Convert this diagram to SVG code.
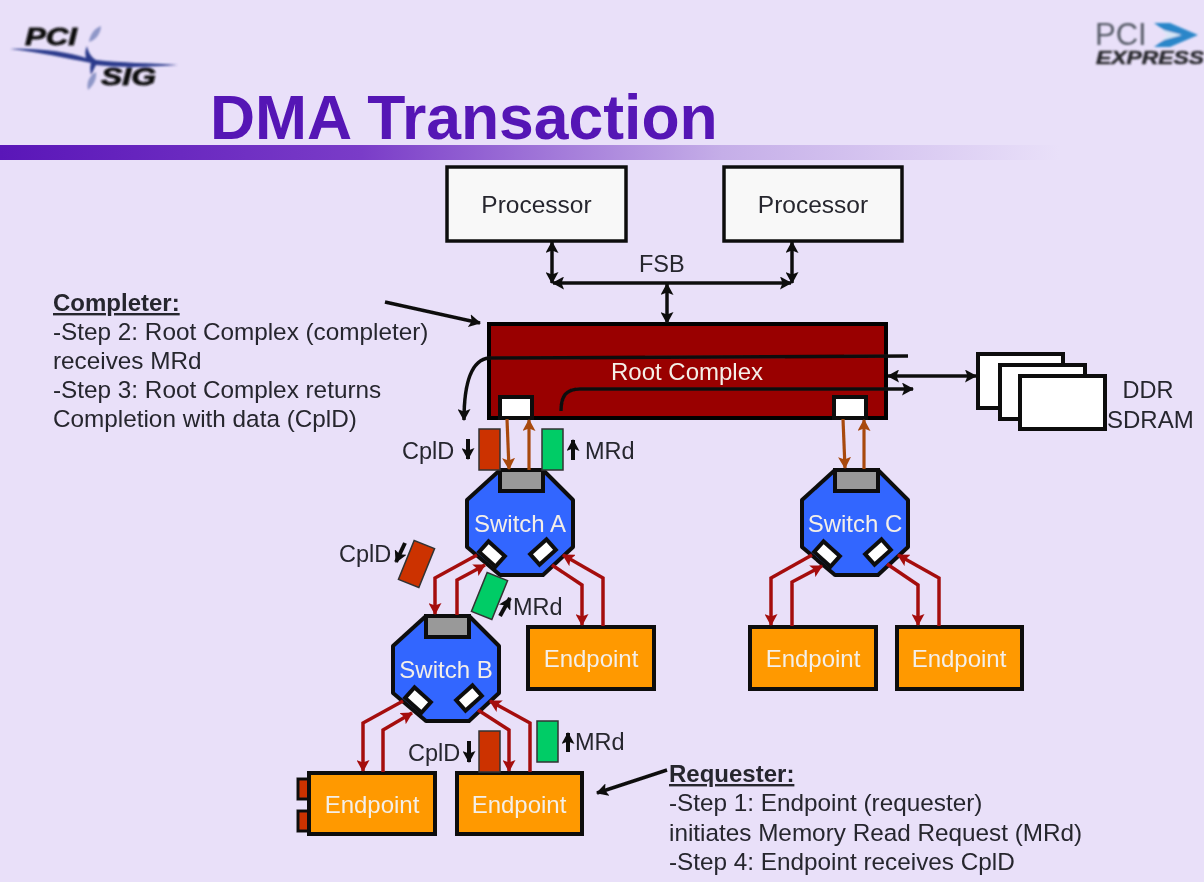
<svg xmlns="http://www.w3.org/2000/svg" width="1204" height="882" viewBox="0 0 1204 882" font-family="'Liberation Sans', Arial, sans-serif">
<style>
.box{stroke:#000;stroke-width:4}
.proc{fill:#f8f8f8;stroke:#111;stroke-width:3.5}
.mem{fill:#fff;stroke:#111;stroke-width:4}
.ep{fill:#ff9900;stroke:#111;stroke-width:4}
.wt{fill:#f4efe8;font-size:24px;text-anchor:middle}
.lb{fill:#26262e;font-size:23.5px}
.nt{fill:#26262e;font-size:24.3px}
.hd{fill:#26262e;font-size:24px;font-weight:700;text-decoration:underline}
.sw{fill:#3366ff;stroke:#111;stroke-width:4;stroke-linejoin:round}
.gray{fill:#999;stroke:#111;stroke-width:4}
.port{fill:#fff;stroke:#111;stroke-width:4}
.blk{fill:none;stroke:#111;stroke-width:3.5}
.red{fill:none;stroke:#a50f0f;stroke-width:3.5;marker-end:url(#mr)}
.org{fill:none;stroke:#a8490f;stroke-width:3.2;marker-end:url(#mo)}
.cpl{fill:#cc3300;stroke:#333;stroke-width:1.5}
.mrd{fill:#00cc66;stroke:#333;stroke-width:1.5}
.tiny{fill:none;stroke:#111;stroke-width:4;marker-end:url(#mk)}
</style>
<defs>
<marker id="mk" markerUnits="userSpaceOnUse" markerWidth="13" markerHeight="13" refX="11" refY="6.500" orient="auto"><path d="M0 0L12 6.500L0 13L2.500 6.500Z" fill="#111"/></marker>
<marker id="mks" markerUnits="userSpaceOnUse" markerWidth="13" markerHeight="13" refX="1" refY="6.500" orient="auto"><path d="M12 0L0 6.500L12 13L9.500 6.500Z" fill="#111"/></marker>
<marker id="mr" markerUnits="userSpaceOnUse" markerWidth="13" markerHeight="13" refX="11" refY="6.500" orient="auto"><path d="M0 0L12 6.500L0 13L2.500 6.500Z" fill="#a50f0f"/></marker>
<marker id="mo" markerUnits="userSpaceOnUse" markerWidth="13" markerHeight="13" refX="11" refY="6.500" orient="auto"><path d="M0 0L12 6.500L0 13L2.500 6.500Z" fill="#a8490f"/></marker>
<linearGradient id="bar" x1="0" x2="1" y1="0" y2="0"><stop offset="0" stop-color="#5a16b8"/><stop offset=".3" stop-color="#7a3cc8"/><stop offset=".6" stop-color="#c5aee8"/><stop offset=".88" stop-color="#e9e0f9"/></linearGradient>
<filter id="soft" x="-5%" y="-5%" width="110%" height="110%"><feGaussianBlur stdDeviation="0.9"/></filter>
<filter id="page" x="0" y="0" width="100%" height="100%"><feGaussianBlur stdDeviation="0.45"/></filter>
<g id="sw-body">
<path class="sw" d="M33 0H76L106 30V77L76 105H33L0 77V30Z"/>
<rect class="gray" x="33" y="0" width="43" height="21"/>
<rect class="port" x="-11" y="-7" width="22" height="14" transform="translate(25 84) rotate(42)"/>
<rect class="port" x="-11" y="-7" width="22" height="14" transform="translate(76 82) rotate(-42)"/>
</g>
</defs>
<rect width="1204" height="882" fill="#e9e0f9"/>
<rect id="title-bar" x="0" y="145" width="1204" height="15" fill="url(#bar)"/>
<g id="logo-sig" filter="url(#soft)">
<path d="M10 49C40 48 68 52 86 58C85 54 85 50 87 46C88 52 91 57 96 60C120 63 150 63 178 65C150 67 120 68 96 65C94 68 93 72 91 75C90 70 90 66 91 63C66 58 38 52 10 49Z" fill="#2a3a8c"/>
<path d="M89 42C90 34 95 28 101 26C101 33 96 40 89 42ZM88 90C86 82 90 75 96 72C97 78 94 85 88 90Z" fill="#8f97c8"/>
<text x="25" y="45" font-size="24" font-weight="700" font-style="italic" fill="#111" stroke="#111" stroke-width=".8" textLength="52" lengthAdjust="spacingAndGlyphs">PCI</text>
<text x="101" y="85" font-size="24" font-weight="700" font-style="italic" fill="#111" stroke="#111" stroke-width=".8" textLength="55" lengthAdjust="spacingAndGlyphs">SIG</text>
</g>
<g id="logo-express" filter="url(#soft)">
<text x="1095" y="45" font-size="31" fill="#555a66">PCI</text>
<path d="M1154 23H1170L1198 35L1170 47H1154L1171 35Z" fill="#2b86c9"/>
<path d="M1160 29L1182 35L1160 41L1168 35Z" fill="#d7e6f6"/>
<text x="1096" y="64" font-size="17.500" font-weight="700" font-style="italic" fill="#2c2c30" stroke="#2c2c30" stroke-width=".5" textLength="108" lengthAdjust="spacingAndGlyphs">EXPRESS</text>
</g>
<g filter="url(#page)">
<text id="title" x="210" y="139" font-size="62.450" font-weight="700" fill="#5512b5">DMA Transaction</text>
<g id="processor-1"><rect class="proc" x="447" y="167" width="179" height="74"/><text class="lb" x="536.500" y="213" style="font-size:24.500px" text-anchor="middle">Processor</text></g>
<g id="processor-2"><rect class="proc" x="724" y="167" width="178" height="74"/><text class="lb" x="813" y="213" style="font-size:24.500px" text-anchor="middle">Processor</text></g>
<g id="root-complex">
<rect class="box" x="489" y="324" width="397" height="94" fill="#990000"/>
<rect class="port" x="500" y="397" width="32" height="21"/>
<rect class="port" x="834" y="397" width="32" height="21"/>
<text class="wt" x="687" y="380">Root Complex</text>
</g>
<g id="memory">
<rect class="mem" x="978" y="354" width="85" height="54"/>
<rect class="mem" x="1000" y="365" width="85" height="54"/>
<rect class="mem" x="1020" y="376" width="85" height="53"/>
<text class="lb" x="1148" y="398" text-anchor="middle">DDR</text>
<text class="lb" x="1107" y="428" style="font-size:24px">SDRAM</text>
</g>
<g id="switch-a"><use href="#sw-body" x="467" y="470"/><text class="wt" x="520" y="532">Switch A</text></g>
<g id="switch-b"><use href="#sw-body" x="393" y="616"/><text class="wt" x="446" y="678">Switch B</text></g>
<g id="switch-c"><use href="#sw-body" x="802" y="470"/><text class="wt" x="855" y="532">Switch C</text></g>
<g id="endpoint-a"><rect class="ep" x="528" y="627" width="126" height="62"/><text class="wt" x="591" y="667">Endpoint</text></g>
<g id="endpoint-c1"><rect class="ep" x="750" y="627" width="126" height="62"/><text class="wt" x="813" y="667">Endpoint</text></g>
<g id="endpoint-c2"><rect class="ep" x="897" y="627" width="125" height="62"/><text class="wt" x="959" y="667">Endpoint</text></g>
<g id="endpoint-b1">
<rect x="298" y="779" width="11" height="20" fill="#cc3300" stroke="#111" stroke-width="3"/>
<rect x="298" y="811" width="11" height="20" fill="#cc3300" stroke="#111" stroke-width="3"/>
<rect class="ep" x="309" y="773" width="126" height="61"/><text class="wt" x="372" y="813">Endpoint</text></g>
<g id="endpoint-b2"><rect class="ep" x="457" y="773" width="125" height="61"/><text class="wt" x="519" y="813">Endpoint</text></g>
<g id="connectors">
<path class="blk" d="M552 242V283" marker-start="url(#mks)" marker-end="url(#mk)"/>
<path class="blk" d="M792 242V283" marker-start="url(#mks)" marker-end="url(#mk)"/>
<path class="blk" d="M553 283H791" marker-start="url(#mks)" marker-end="url(#mk)"/>
<path class="blk" d="M667 284V323" marker-start="url(#mks)" marker-end="url(#mk)"/>
<path class="blk" d="M385 302L480 323" marker-end="url(#mk)"/>
<path class="blk" d="M667 770L597 793" marker-end="url(#mk)"/>
<path class="blk" d="M908 356L489 358C470 360 464 385 464 420" marker-end="url(#mk)"/>
<path class="blk" d="M561 411C561 396 566 389 580 389H913" marker-end="url(#mk)"/>
<path class="blk" d="M888 376H976" marker-start="url(#mks)" marker-end="url(#mk)"/>
<path class="org" d="M507 419L509 469"/>
<path class="org" d="M529 470V420"/>
<path class="org" d="M843 419L845 468"/>
<path class="org" d="M864 469V420"/>
<path class="red" d="M477 555L435 578V614"/>
<path class="red" d="M457 615V580L485 565"/>
<path class="red" d="M552 565L582 585V625"/>
<path class="red" d="M603 626V578L563 555"/>
<path class="red" d="M403 701L363 723V771"/>
<path class="red" d="M383 772V730L412 713"/>
<path class="red" d="M478 710L509 730V771"/>
<path class="red" d="M530 772V723L490 701"/>
<path class="red" d="M812 555L771 578V625"/>
<path class="red" d="M792 626V582L822 566"/>
<path class="red" d="M887 564L918 585V625"/>
<path class="red" d="M939 626V578L898 555"/>
<path class="tiny" d="M468 439V459"/>
<path class="tiny" d="M573 460V440"/>
<path class="tiny" d="M405 543L396 562"/>
<path class="tiny" d="M500 616L510 598"/>
<path class="tiny" d="M469 741V762"/>
<path class="tiny" d="M568 752V733"/>
</g>
<g id="packets">
<rect class="cpl" x="479" y="429" width="21" height="41"/>
<rect class="mrd" x="542" y="429" width="21" height="41"/>
<rect class="cpl" x="-11" y="-21" width="22" height="42" transform="translate(416.500 564) rotate(22)"/>
<rect class="mrd" x="-11" y="-21" width="22" height="42" transform="translate(489.500 596) rotate(22)"/>
<rect class="cpl" x="479" y="731" width="21" height="41"/>
<rect class="mrd" x="537" y="721" width="21" height="41"/>
</g>
<g id="labels">
<text class="lb" x="402" y="459">CplD</text>
<text class="lb" x="585" y="459">MRd</text>
<text class="lb" x="339" y="562">CplD</text>
<text class="lb" x="513" y="615">MRd</text>
<text class="lb" x="408" y="761">CplD</text>
<text class="lb" x="575" y="750">MRd</text>
<text class="lb" x="639" y="272">FSB</text>
</g>
<g id="completer-note">
<text class="hd" x="53" y="311">Completer:</text>
<text class="nt" x="53" y="340">-Step 2: Root Complex (completer)</text>
<text class="nt" x="53" y="369">receives MRd</text>
<text class="nt" x="53" y="398">-Step 3: Root Complex returns</text>
<text class="nt" x="53" y="427">Completion with data (CplD)</text>
</g>
<g id="requester-note">
<text class="hd" x="669" y="782">Requester:</text>
<text class="nt" x="669" y="811">-Step 1: Endpoint (requester)</text>
<text class="nt" x="669" y="841">initiates Memory Read Request (MRd)</text>
<text class="nt" x="669" y="870">-Step 4: Endpoint receives CplD</text>
</g>
</g>
</svg>
